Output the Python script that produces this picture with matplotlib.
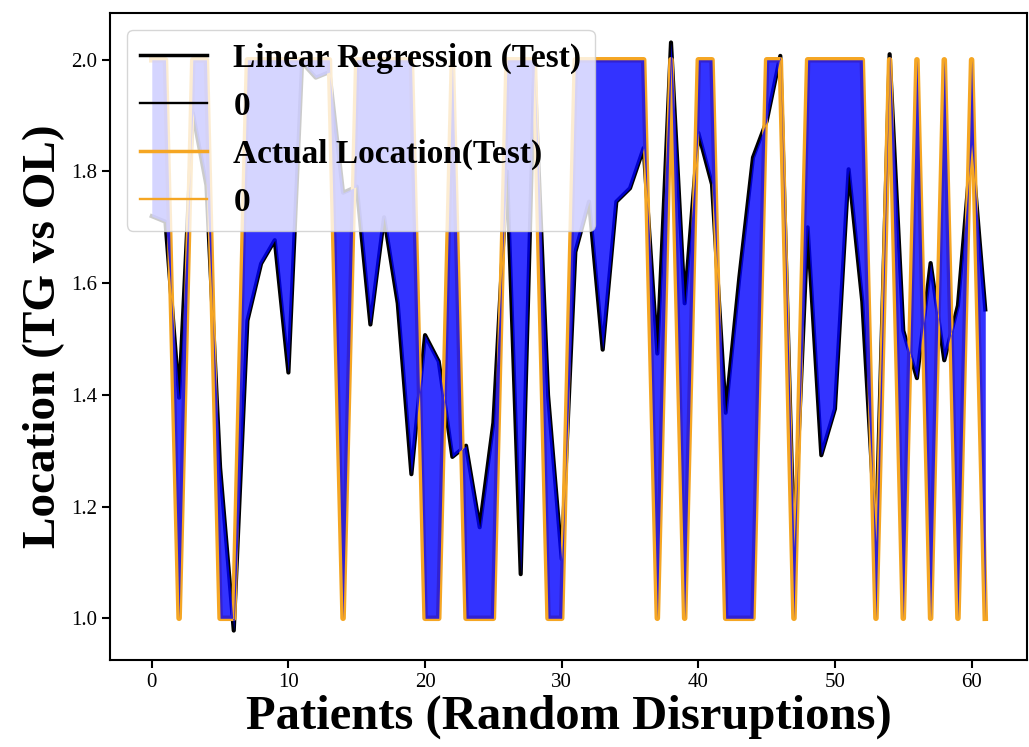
import matplotlib
matplotlib.use("Agg")
import matplotlib.pyplot as plt
from matplotlib.lines import Line2D

# test patients and the two series
patients = list(range(62))
predicted = [1.72, 1.71, 1.395, 1.905, 1.775, 1.27, 0.978, 1.533, 1.635, 1.677,
             1.44, 1.995, 1.968, 1.978, 1.762, 1.773, 1.526, 1.718, 1.564, 1.258,
             1.507, 1.46, 1.289, 1.309, 1.163, 1.35, 1.80, 1.079, 1.99, 1.40,
             1.106, 1.656, 1.746, 1.481, 1.746, 1.77, 1.842, 1.474, 2.031, 1.564,
             1.869, 1.777, 1.368, 1.61, 1.825, 1.89, 2.007, 1.127, 1.70, 1.292,
             1.375, 1.804, 1.567, 1.137, 2.01, 1.515, 1.43, 1.636, 1.462, 1.56,
             1.849, 1.553]
actual = [2, 2, 1, 2, 2, 1, 1, 2, 2, 2,
          2, 2, 2, 2, 1, 2, 2, 2, 2, 2,
          1, 1, 2, 1, 1, 1, 2, 2, 2, 1,
          1, 2, 2, 2, 2, 2, 2, 1, 2, 1,
          2, 2, 1, 1, 1, 2, 2, 1, 2, 2,
          2, 2, 2, 1, 2, 1, 2, 1, 2, 1,
          2, 1]
legend_labels = ['Linear Regression (Test)', '0', 'Actual Location(Test)', '0']

orange = '#f5a623'
plt.rcParams['font.family'] = ['Liberation Serif', 'DejaVu Serif']

fig = plt.figure(figsize=(10.29, 7.47), dpi=100)
ax = fig.add_axes([0.107, 0.1165, 0.891, 0.866])

ax.plot(patients, predicted, color='black', lw=3)
ax.plot(patients, actual, color=orange, lw=4)
# fill sits over the lines, so the inner half of each line is tinted
ax.fill_between(patients, predicted, actual, color='blue', alpha=0.8, lw=0, zorder=3)

handles = [Line2D([], [], color='black', lw=2.5),
           Line2D([], [], color='black', lw=1.7),
           Line2D([], [], color=orange, lw=2.5),
           Line2D([], [], color=orange, lw=1.7)]
ax.legend(handles, legend_labels, loc='upper left',
          prop={'weight': 'bold', 'size': 24})

ax.set_xlabel('Patients (Random Disruptions)', fontsize=35, fontweight='bold', labelpad=2)
ax.set_ylabel('Location (TG vs OL)', fontsize=34, fontweight='bold')
ax.tick_params(labelsize=15, length=6, width=1.5)
for s in ax.spines.values():
    s.set_linewidth(1.5)

fig.savefig('out.png', dpi=100)
